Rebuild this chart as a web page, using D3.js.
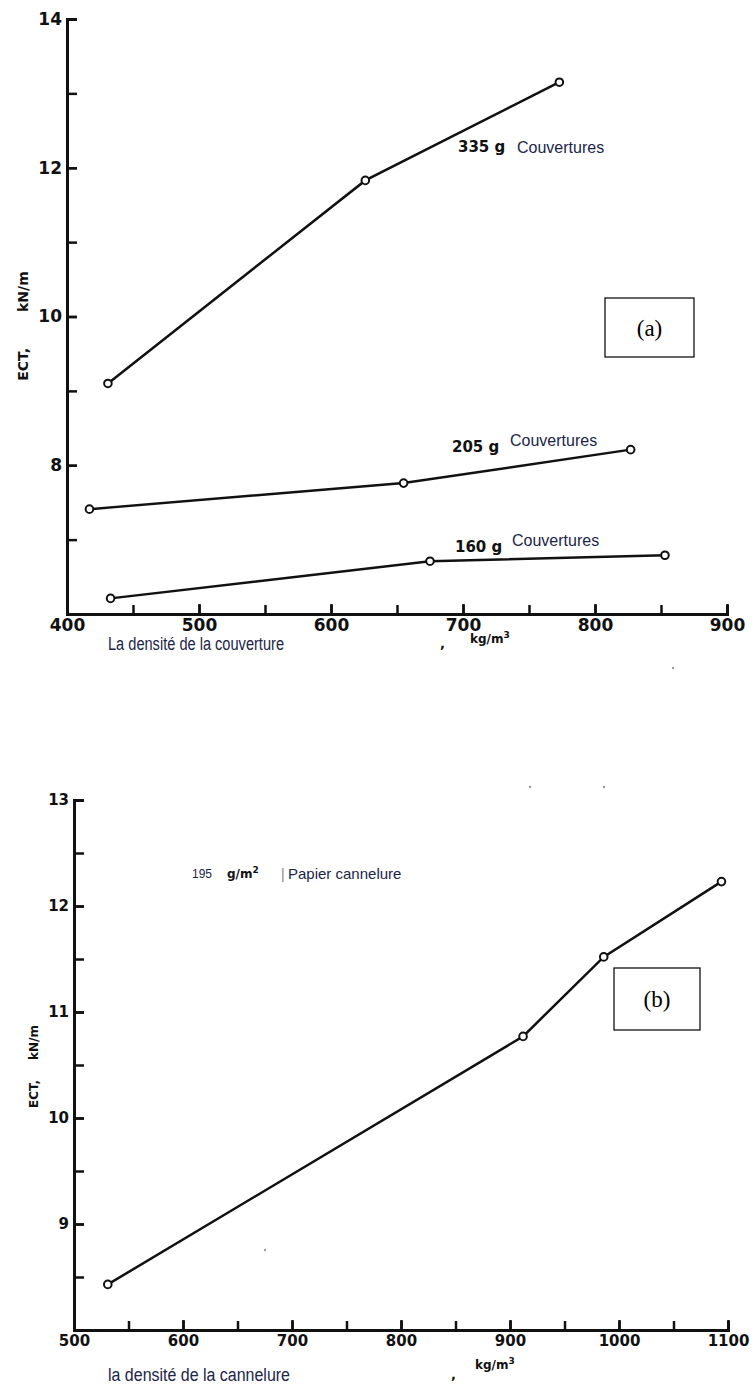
<!DOCTYPE html>
<meta charset="utf-8" />
<style>
  body { margin: 0; background: #fff; }
  .axis path, .axis line { stroke: #111; }
  .axis path { stroke-width: 3px; }
  .axis line { stroke-width: 2.5px; }
  .axis text { font-family: 'DejaVu Sans', sans-serif; font-weight: bold; fill: #111; }
  .line { fill: none; stroke: #111; stroke-width: 2.5px; }
  .dot { fill: #fff; stroke: #111; stroke-width: 2px; }
  .ylab { font-family: 'DejaVu Sans', sans-serif; font-weight: bold; fill: #111; }
  .note { font-family: 'Liberation Sans', Arial, sans-serif; fill: #1c2547; }
  .xlab { font-family: 'Liberation Sans', Arial, sans-serif; fill: #1c2547; }
</style>
<svg width="755" height="1388"></svg>
<script src="https://d3js.org/d3.v7.min.js"></script>
<script>
  // (a) ECT vs liner density
  var seriesA = ['335 g', '205 g', '160 g'];
  var densA335 = [431, 626, 773];
  var ectA335 = [9.1, 11.83, 13.15];
  var densA205 = [417, 655, 827];
  var ectA205 = [7.41, 7.76, 8.21];
  var densA160 = [433, 675, 853];
  var ectA160 = [6.21, 6.71, 6.79];
  var xTicksA = [400, 500, 600, 700, 800, 900];
  var yTicksA = [8, 10, 12, 14];

  // (b) ECT vs medium density
  var densB = [531, 912, 986, 1094];
  var ectB = [8.43, 10.77, 11.52, 12.23];
  var xTicksB = [500, 600, 700, 800, 900, 1000, 1100];
  var yTicksB = [9, 10, 11, 12, 13];

  var svg = d3.select('svg');

  var xA = d3.scaleLinear().domain([400, 900]).range([67, 727]),
    yA = d3.scaleLinear().domain([6, 14]).range([614, 19]);
  var xB = d3.scaleLinear().domain([500, 1100]).range([74, 728]),
    yB = d3.scaleLinear().domain([8, 13]).range([1330, 800]);

  function drawAxes(x, y, xTicks, yTicks, xMinor, yMinor, fs) {
    var x0 = x.range()[0], y0 = y.range()[0];
    var fmt = d3.format('d');
    // minor ticks
    svg.append('g').attr('class', 'axis')
      .attr('transform', 'translate(0,' + y0 + ')')
      .call(d3.axisBottom(x).tickValues(xMinor).tickSize(-9).tickFormat(''));
    svg.append('g').attr('class', 'axis')
      .attr('transform', 'translate(' + x0 + ',0)')
      .call(d3.axisLeft(y).tickValues(yMinor).tickSize(-10).tickFormat(''));
    // labelled
    svg.append('g').attr('class', 'axis')
      .attr('transform', 'translate(0,' + y0 + ')')
      .call(d3.axisBottom(x).tickValues(xTicks).tickFormat(fmt).tickSize(-10).tickSizeOuter(0).tickPadding(5))
      .selectAll('text').style('font-size', fs + 'px');
    svg.append('g').attr('class', 'axis')
      .attr('transform', 'translate(' + x0 + ',0)')
      .call(d3.axisLeft(y).tickValues(yTicks).tickFormat(fmt).tickSize(-10).tickSizeOuter(0).tickPadding(5))
      .selectAll('text').style('font-size', fs + 'px');
  }

  drawAxes(xA, yA, xTicksA, yTicksA, d3.range(450, 900, 50), d3.range(7, 14, 1), 17);
  drawAxes(xB, yB, xTicksB, yTicksB, d3.range(550, 1100, 50), d3.range(8.5, 13, 0.5), 15);

  function drawSeries(x, y, dens, ect) {
    var pts = dens.map(function (d, i) { return [d, ect[i]]; });
    var line = d3.line().x(function (d) { return x(d[0]); }).y(function (d) { return y(d[1]); });
    svg.append('path').attr('class', 'line').attr('d', line(pts));
    svg.selectAll(null).data(pts).enter().append('circle')
      .attr('class', 'dot')
      .attr('cx', function (d) { return x(d[0]); })
      .attr('cy', function (d) { return y(d[1]); })
      .attr('r', 3.8);
  }

  drawSeries(xA, yA, densA335, ectA335);
  drawSeries(xA, yA, densA205, ectA205);
  drawSeries(xA, yA, densA160, ectA160);
  drawSeries(xB, yB, densB, ectB);

  // series labels (a)
  var labA = [
    { t: seriesA[0], x: 458, y: 152, cx: 517, cy: 153 },
    { t: seriesA[1], x: 452, y: 452, cx: 510, cy: 446 },
    { t: seriesA[2], x: 455, y: 552, cx: 512, cy: 546 }
  ];
  labA.forEach(function (d) {
    svg.append('text').attr('class', 'ylab').attr('x', d.x).attr('y', d.y)
      .style('font-size', '15px').text(d.t);
    svg.append('text').attr('class', 'note').attr('x', d.cx).attr('y', d.cy)
      .style('font-size', '16px').text('Couvertures');
  });

  // y axis titles
  function yTitle(cx, cy, fs, gap) {
    var g = svg.append('g').attr('transform', 'translate(' + cx + ',' + cy + ') rotate(-90)');
    g.append('text').attr('class', 'ylab').attr('x', -gap).attr('text-anchor', 'end')
      .style('font-size', fs + 'px').text('ECT,');
    g.append('text').attr('class', 'ylab').attr('x', gap).attr('text-anchor', 'start')
      .style('font-size', fs + 'px').text('kN/m');
  }
  yTitle(28, 330, 14, 18);
  yTitle(38, 1070, 12, 10);

  // x axis titles
  function xTitle(x, y, w, txt, cx, cy, ux, uy) {
    svg.append('text').attr('class', 'xlab').attr('x', x).attr('y', y)
      .attr('textLength', w).attr('lengthAdjust', 'spacingAndGlyphs')
      .style('font-size', '18px').text(txt);
    svg.append('text').attr('class', 'ylab').attr('x', cx).attr('y', cy)
      .style('font-size', '13px').text(',');
    var t = svg.append('text').attr('class', 'ylab').attr('x', ux).attr('y', uy)
      .style('font-size', '12px');
    t.append('tspan').text('kg/m');
    t.append('tspan').attr('dy', -5).style('font-size', '9px').text('3');
  }
  xTitle(108, 650, 176, 'La densité de la couverture', 440, 648, 470, 643);
  xTitle(108, 1381, 182, 'la densité de la cannelure', 451, 1379, 475, 1369);

  // (b) annotation
  var nb = svg.append('g');
  nb.append('text').attr('class', 'note').attr('x', 192).attr('y', 878)
    .style('font-size', '12px').text('195');
  var gm = nb.append('text').attr('class', 'ylab').attr('x', 227).attr('y', 878)
    .style('font-size', '12px');
  gm.append('tspan').text('g/m');
  gm.append('tspan').attr('dy', -5).style('font-size', '9px').text('2');
  nb.append('text').attr('class', 'note').attr('x', 281).attr('y', 879)
    .style('font-size', '14px').style('fill', '#888').text('|');
  nb.append('text').attr('class', 'note').attr('x', 288).attr('y', 879)
    .style('font-size', '15px').text('Papier cannelure');

  // panel boxes
  function panelBox(x, y, w, h, txt) {
    svg.append('rect').attr('x', x).attr('y', y).attr('width', w).attr('height', h)
      .attr('fill', 'none').attr('stroke', '#111').attr('stroke-width', 1.3);
    svg.append('text').attr('x', x + w / 2).attr('y', y + h / 2 + 8)
      .attr('text-anchor', 'middle')
      .style('font-family', "'Liberation Serif', serif").style('font-size', '23px')
      .text(txt);
  }
  panelBox(605, 298, 89, 59, '(a)');
  panelBox(614, 968, 86, 62, '(b)');

  // stray specks from the scan
  svg.selectAll(null).data([[673, 668], [604, 787], [530, 787], [265, 1250]]).enter()
    .append('circle').attr('cx', function (d) { return d[0]; }).attr('cy', function (d) { return d[1]; })
    .attr('r', 1.2).attr('fill', '#999');
</script>
